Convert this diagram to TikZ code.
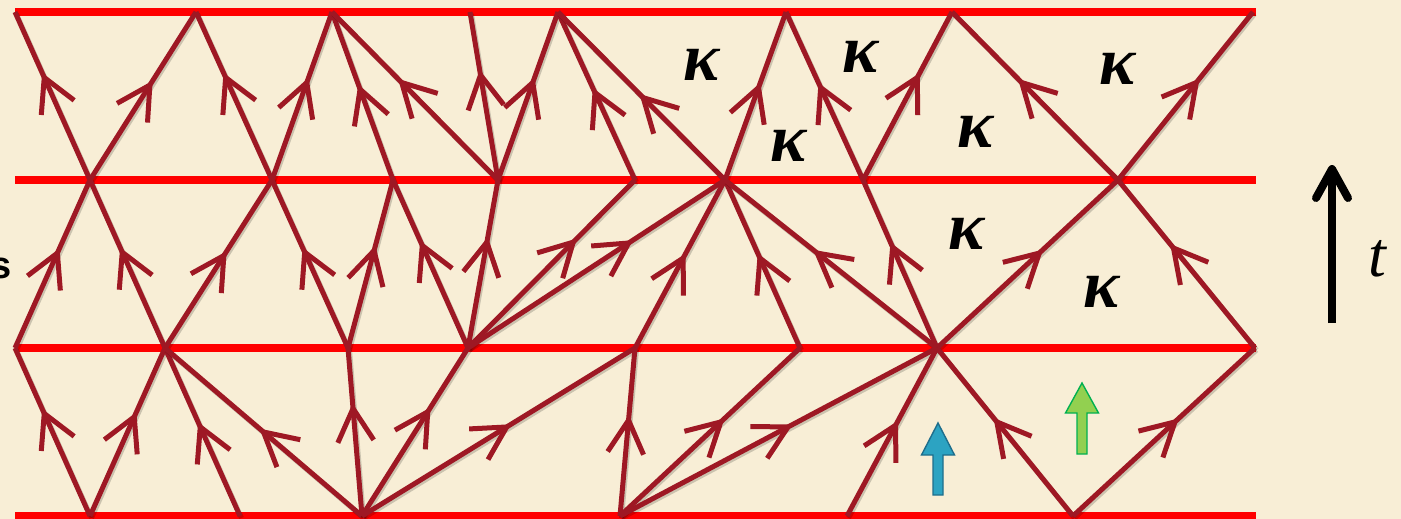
\documentclass[tikz,border=0pt]{standalone}
\usepackage{fontspec}
\newfontfamily\kapfont{Liberation Serif}
\newfontfamily\labfont{Liberation Sans}
\usetikzlibrary{decorations.markings}
\definecolor{parch}{RGB}{248,238,214}
\definecolor{edgered}{RGB}{158,24,36}
\definecolor{bandred}{RGB}{255,0,0}
\definecolor{blueA}{RGB}{44,163,194}
\definecolor{blueB}{RGB}{30,110,140}
\definecolor{greenA}{RGB}{146,208,80}
\definecolor{greenB}{RGB}{0,176,80}
\begin{document}
\begin{tikzpicture}[x=1pt,y=-1pt,
  band/.style={draw=bandred, line width=8pt, line cap=butt},
  edge/.style={draw=edgered, line width=5pt, line cap=butt,
    preaction={draw=black, draw opacity=0.18, line width=5pt, transform canvas={shift={(1.5pt,-2pt)}}}},
  flow/.style={postaction={decorate}, decoration={markings,
    mark=at position #1 with {\draw[edgered, line width=5pt, line join=miter, line cap=butt] (-33,18) -- (0,0) -- (-33,-18);}}},
  flow/.default=0.57,
  kap/.style={font=\kapfont\bfseries\itshape\fontsize{68}{68}\selectfont, inner sep=0pt},
  blockarrow/.style={line width=1.4pt, line join=miter}
]
\useasboundingbox (0,0) rectangle (1401,519);
\clip (0,0) rectangle (1401,519);
\fill[parch] (0,0) rectangle (1401,519);

% vertices
\foreach \n/\x in {1/15,2/196,3/332,4/470,5/558,6/786,7/952,8/1253}
  \coordinate (a\n) at (\x,12);
\foreach \n/\x in {1/90,2/272,3/393,4/498,5/635,6/725,7/863,8/1118}
  \coordinate (b\n) at (\x,180);
\foreach \n/\x in {1/15,2/165,3/348,4/468,5/635,6/800,7/937,8/1255}
  \coordinate (c\n) at (\x,348);
\foreach \n/\x in {1/90,2/240,3/362,4/620,5/847,6/1073}
  \coordinate (d\n) at (\x,516);

% red time slices
\foreach \l/\y in {0/516,1/348,2/180,3/12}{
  \coordinate (L\l) at (15,\y);
  \coordinate (R\l) at (1256,\y);
  \draw[band] (L\l) -- (R\l);
}

% edges, upward
\foreach \s/\t/\p in {
  b1/a1/0.61, b1/a2/0.565, b2/a2/0.61, b2/a3/0.58, b3/a3/0.54, b4/a3/0.58,
  b4/a4/0.625, b4/a5/0.58, b5/a5/0.52, b6/a5/0.49, b6/a6/0.55, b7/a6/0.55,
  b7/a7/0.61, b8/a7/0.58, b8/a8/0.58,
  c1/b1/0.565, c2/b1/0.57, c2/b2/0.55, c3/b2/0.57, c3/b3/0.58, c4/b3/0.61,
  c4/b4/0.63, c4/b5/0.63, c4/b6/0.625, c5/b6/0.535, c6/b6/0.535, c7/b6/0.565,
  c7/b7/0.6, c7/b8/0.565, c8/b8/0.595,
  d1/c1/0.61, d1/c2/0.59, d2/c2/0.53, d3/c2/0.5, d3/c3/0.64, d3/c4/0.62,
  d3/c5/0.53, d4/c5/0.57, d4/c6/0.56, d4/c7/0.53, d5/c7/0.54, d6/c7/0.56,
  d6/c8/0.56}
  \draw[edge, flow=\p] (\s) -- (\t);

% kappa labels
\node[kap] (k1) at (702,65) {κ};
\node[kap] (k2) at (861,57) {κ};
\node[kap] (k3) at (789,146) {κ};
\node[kap] (k4) at (1118,69) {κ};
\node[kap] (k5) at (976,132) {κ};
\node[kap] (k6) at (967,234) {κ};
\node[kap] (k7) at (1102,292) {κ};

% cut-off label at left
\node[font=\labfont\bfseries\fontsize{38}{38}\selectfont, anchor=east, inner sep=0pt] (s) at (12,268) {s};

% time arrow
\coordinate (tb) at (1332,323);
\coordinate (tt) at (1332,169);
\coordinate (tl) at (1316,198);
\coordinate (tr) at (1348,198);
\draw[black, line width=8pt] (tb) -- (tt);
\draw[black, line width=8pt, line cap=round, line join=round] (tl) -- (tt) -- (tr);
\node[font=\kapfont\itshape\fontsize{64}{64}\selectfont, inner sep=0pt] (tlab) at (1377,259) {t};

% blue and green block arrows
\draw[blockarrow, fill=blueA, draw=blueB]
  (938,423) -- (954.5,455) -- (943,455) -- (943,495) -- (933,495) -- (933,455) -- (921.5,455) -- cycle;
\draw[blockarrow, fill=greenA, draw=greenB]
  (1082,383) -- (1098.5,413) -- (1087,413) -- (1087,454) -- (1077,454) -- (1077,413) -- (1065.5,413) -- cycle;
\end{tikzpicture}
\end{document}
